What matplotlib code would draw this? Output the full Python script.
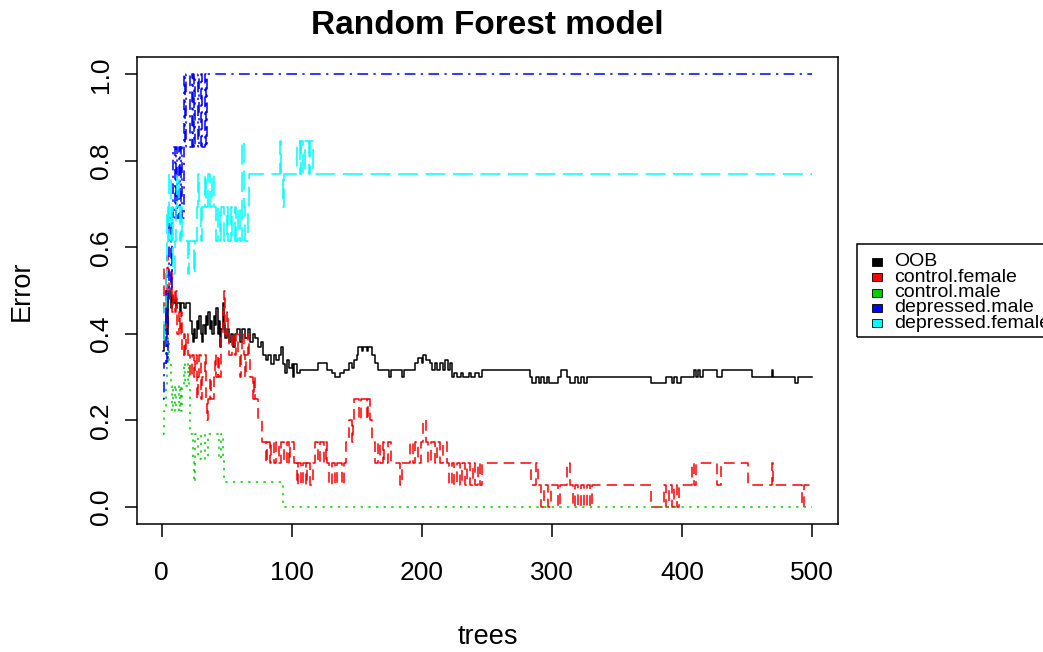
import numpy as np
import matplotlib.pyplot as plt
from matplotlib.patches import Rectangle

plt.rcParams['font.family'] = ['Liberation Sans', 'DejaVu Sans']

# error rate per number of trees, stored as change points (tree, error)
oob_trees = [1, 2, 3, 4, 5, 6, 7, 8, 9, 10, 11, 12, 14, 15, 17, 19, 22, 23, 24, 25,
             26, 27, 28, 29, 30, 31, 32, 33, 34, 35, 36, 37, 38, 39, 40, 41, 42, 43, 44, 45,
             46, 47, 48, 49, 50, 52, 53, 55, 56, 58, 60, 62, 64, 66, 68, 70, 72, 74, 76, 78,
             80, 82, 84, 86, 88, 90, 92, 93, 95, 96, 98, 100, 101, 102, 104, 106, 120, 127, 131, 133,
             137, 140, 144, 146, 148, 150, 151, 154, 155, 158, 159, 162, 164, 166, 175, 176, 185, 186, 195, 197,
             200, 201, 203, 206, 208, 210, 212, 214, 216, 218, 220, 222, 223, 225, 227, 230, 232, 236, 238, 241,
             244, 246, 283, 285, 288, 290, 292, 294, 296, 298, 305, 307, 312, 314, 318, 320, 322, 325, 327, 330,
             376, 388, 392, 394, 396, 399, 409, 411, 412, 414, 416, 427, 431, 454, 469, 470, 487, 489, 500]
oob_err = [0.36, 0.42, 0.47, 0.40, 0.48, 0.50, 0.46, 0.49, 0.47, 0.48, 0.46, 0.47, 0.45, 0.47, 0.46, 0.47, 0.43, 0.40, 0.38, 0.41,
           0.39, 0.43, 0.41, 0.44, 0.40, 0.38, 0.42, 0.40, 0.44, 0.42, 0.45, 0.41, 0.43, 0.40, 0.44, 0.42, 0.46, 0.40, 0.43, 0.37,
           0.41, 0.47, 0.42, 0.39, 0.41, 0.38, 0.40, 0.37, 0.40, 0.41, 0.38, 0.41, 0.39, 0.41, 0.38, 0.40, 0.39, 0.37, 0.38, 0.35,
           0.34, 0.35, 0.33, 0.35, 0.34, 0.35, 0.37, 0.33, 0.31, 0.34, 0.32, 0.33, 0.30, 0.33, 0.31, 0.317, 0.332, 0.317, 0.31, 0.30,
           0.31, 0.317, 0.332, 0.32, 0.34, 0.35, 0.369, 0.36, 0.369, 0.36, 0.369, 0.35, 0.332, 0.317, 0.30, 0.317, 0.30, 0.317, 0.332, 0.345,
           0.332, 0.35, 0.34, 0.332, 0.317, 0.332, 0.317, 0.332, 0.317, 0.34, 0.317, 0.332, 0.30, 0.31, 0.30, 0.31, 0.30, 0.31, 0.30, 0.31,
           0.30, 0.317, 0.30, 0.285, 0.30, 0.285, 0.30, 0.285, 0.30, 0.285, 0.30, 0.317, 0.30, 0.285, 0.30, 0.285, 0.30, 0.285, 0.30, 0.30,
           0.285, 0.30, 0.285, 0.30, 0.285, 0.30, 0.317, 0.30, 0.317, 0.30, 0.317, 0.30, 0.317, 0.30, 0.317, 0.30, 0.285, 0.30, 0.30]

cf_trees = [1, 2, 3, 4, 5, 6, 7, 8, 9, 10, 11, 12, 13, 14, 15, 16, 17, 18, 19, 20,
            22, 23, 25, 26, 27, 28, 29, 30, 31, 33, 34, 35, 36, 37, 38, 40, 41, 42, 43, 44,
            46, 47, 48, 49, 50, 51, 52, 54, 56, 57, 59, 60, 61, 62, 63, 64, 65, 66, 67, 68,
            70, 71, 72, 74, 77, 80, 81, 83, 84, 86, 88, 90, 92, 94, 96, 98, 99, 102, 104, 105,
            107, 109, 111, 112, 114, 116, 118, 120, 122, 125, 126, 127, 129, 131, 133, 135, 139, 140, 142, 144,
            146, 147, 148, 152, 153, 158, 159, 160, 162, 164, 166, 168, 170, 171, 174, 176, 183, 185, 191, 193,
            195, 197, 199, 201, 203, 205, 207, 210, 212, 214, 216, 219, 221, 223, 225, 227, 229, 231, 233, 235,
            237, 239, 241, 243, 245, 246, 284, 288, 289, 292, 294, 297, 299, 305, 306, 312, 314, 316, 318, 320,
            322, 325, 327, 329, 331, 376, 386, 388, 390, 392, 394, 396, 398, 408, 409, 411, 427, 430, 451, 469,
            470, 492, 494, 500]
cf_err = [0.45, 0.55, 0.40, 0.58, 0.55, 0.50, 0.55, 0.45, 0.50, 0.45, 0.50, 0.40, 0.45, 0.40, 0.45, 0.35, 0.40, 0.35, 0.40, 0.35,
          0.30, 0.35, 0.30, 0.35, 0.25, 0.30, 0.35, 0.25, 0.30, 0.35, 0.25, 0.20, 0.25, 0.30, 0.25, 0.30, 0.35, 0.30, 0.35, 0.30,
          0.40, 0.45, 0.50, 0.40, 0.45, 0.40, 0.35, 0.40, 0.35, 0.40, 0.35, 0.30, 0.35, 0.40, 0.35, 0.30, 0.35, 0.40, 0.35, 0.30,
          0.25, 0.30, 0.25, 0.20, 0.15, 0.10, 0.15, 0.10, 0.15, 0.10, 0.15, 0.10, 0.15, 0.10, 0.15, 0.10, 0.15, 0.10, 0.05, 0.10,
          0.05, 0.10, 0.05, 0.10, 0.05, 0.10, 0.15, 0.10, 0.15, 0.10, 0.15, 0.10, 0.05, 0.10, 0.05, 0.10, 0.05, 0.10, 0.15, 0.20,
          0.15, 0.20, 0.25, 0.20, 0.25, 0.20, 0.25, 0.20, 0.15, 0.10, 0.15, 0.10, 0.15, 0.10, 0.15, 0.10, 0.05, 0.10, 0.15, 0.10,
          0.15, 0.10, 0.15, 0.20, 0.15, 0.10, 0.15, 0.10, 0.15, 0.10, 0.15, 0.10, 0.05, 0.10, 0.05, 0.10, 0.05, 0.10, 0.05, 0.10,
          0.05, 0.10, 0.05, 0.10, 0.05, 0.10, 0.05, 0.10, 0.05, 0.00, 0.05, 0.00, 0.05, 0.00, 0.05, 0.10, 0.05, 0.00, 0.05, 0.00,
          0.05, 0.00, 0.05, 0.00, 0.05, 0.00, 0.05, 0.00, 0.05, 0.00, 0.05, 0.00, 0.05, 0.10, 0.05, 0.10, 0.05, 0.10, 0.05, 0.10,
          0.05, 0.00, 0.05, 0.05]

cm_trees = [1, 2, 3, 4, 5, 6, 7, 8, 9, 10, 11, 13, 14, 15, 16, 17, 18, 20, 21, 22,
            24, 25, 26, 28, 30, 33, 36, 44, 46, 47, 48, 93, 500]
cm_err = [0.167, 0.222, 0.278, 0.333, 0.389, 0.333, 0.278, 0.222, 0.278, 0.222, 0.278, 0.222, 0.278, 0.222, 0.278, 0.333, 0.278, 0.333, 0.278, 0.167,
          0.111, 0.056, 0.167, 0.111, 0.167, 0.111, 0.167, 0.111, 0.167, 0.111, 0.056, 0.0, 0.0]

dm_trees = [1, 2, 3, 4, 5, 6, 7, 8, 9, 10, 11, 12, 13, 14, 15, 16, 17, 18, 19, 22,
            23, 24, 25, 26, 28, 29, 30, 31, 33, 34, 35, 500]
dm_err = [0.25, 0.333, 0.5, 0.333, 0.5, 0.667, 0.5, 0.667, 0.833, 0.667, 0.833, 0.667, 0.833, 0.667, 0.833, 0.667, 1.0, 0.833, 1.0, 0.833,
          1.0, 0.833, 1.0, 0.833, 1.0, 0.833, 1.0, 0.833, 1.0, 0.833, 1.0, 1.0]

df_trees = [1, 2, 3, 4, 5, 6, 7, 8, 9, 10, 11, 12, 13, 14, 15, 16, 20, 21, 25, 26,
            27, 28, 29, 30, 31, 33, 34, 36, 37, 39, 40, 42, 43, 45, 46, 48, 50, 51, 53, 54,
            56, 57, 59, 60, 62, 63, 64, 66, 67, 91, 92, 93, 94, 104, 106, 107, 109, 110, 113, 114,
            116, 500]
df_err = [0.385, 0.462, 0.538, 0.692, 0.615, 0.769, 0.615, 0.692, 0.538, 0.615, 0.692, 0.769, 0.692, 0.615, 0.692, 0.615, 0.538, 0.615, 0.538, 0.615,
          0.692, 0.769, 0.692, 0.615, 0.692, 0.769, 0.692, 0.769, 0.692, 0.769, 0.692, 0.615, 0.692, 0.615, 0.692, 0.615, 0.692, 0.615, 0.692, 0.615,
          0.692, 0.615, 0.692, 0.615, 0.846, 0.692, 0.615, 0.692, 0.769, 0.846, 0.769, 0.692, 0.769, 0.846, 0.769, 0.846, 0.769, 0.846, 0.769, 0.846,
          0.769, 0.769]

labels = ['OOB', 'control.female', 'control.male', 'depressed.male', 'depressed.female']
colors = ['black', '#FF0000', '#00CD00', '#0000FF', '#00FFFF']
styles = ['-', (0, (7, 4)), (0, (1.5, 3.5)), (0, (1.5, 3.5, 7, 3.5)), (0, (13, 5))]
series = [(oob_trees, oob_err), (cf_trees, cf_err), (cm_trees, cm_err),
          (dm_trees, dm_err), (df_trees, df_err)]

W, H = 1043, 652
fig = plt.figure(figsize=(W / 100, H / 100), dpi=100)
ax = fig.add_axes([137 / W, 1 - 524 / H, 701 / W, 467 / H])

for (t, e), c, ls in zip(series, colors, styles):
    ax.step(t, e, where='post', color=c, linestyle=ls, linewidth=1.1)

ax.set_xlim(-18.96, 519.96)
ax.set_ylim(-0.04, 1.04)
ax.set_xticks([0, 100, 200, 300, 400, 500])
ax.set_xticklabels(['0', '100', '200', '300', '400', '500'], fontsize=19)
ax.set_yticks([0.0, 0.2, 0.4, 0.6, 0.8, 1.0])
ax.set_yticklabels(['0.0', '0.2', '0.4', '0.6', '0.8', '1.0'], fontsize=19,
                   rotation=90, va='center')
ax.tick_params(axis='x', length=9, width=1.1, pad=18, colors='black')
ax.tick_params(axis='y', length=9, width=1.1, pad=8, colors='black')
for s in ax.spines.values():
    s.set_linewidth(1.1)

ax.set_xlabel('trees', fontsize=19.5, va='center')
ax.xaxis.set_label_coords(0.5, -113 / 467)
ax.set_ylabel('Error', fontsize=19.5, va='center', ha='center')
ax.yaxis.set_label_coords(-115 / 701, 0.5)

fig.text(487.5 / W, 1 - 26 / H, 'Random Forest model', fontsize=24,
         fontweight='bold', ha='center', va='center')

# legend box to the right of the plot
fig.add_artist(Rectangle((857 / W, 1 - 337 / H), 220 / W, 93 / H,
                         transform=fig.transFigure, fill=False,
                         edgecolor='black', linewidth=1.1))
for i, (lab, c) in enumerate(zip(labels, colors)):
    yc = 262 + 15.3 * i
    fig.add_artist(Rectangle((872 / W, 1 - (yc + 4) / H), 10 / W, 8 / H,
                             transform=fig.transFigure, facecolor=c,
                             edgecolor='black', linewidth=0.6))
    fig.text(894 / W, 1 - yc / H, lab, fontsize=14, ha='left', va='center')

fig.savefig('out.png', dpi=100)
